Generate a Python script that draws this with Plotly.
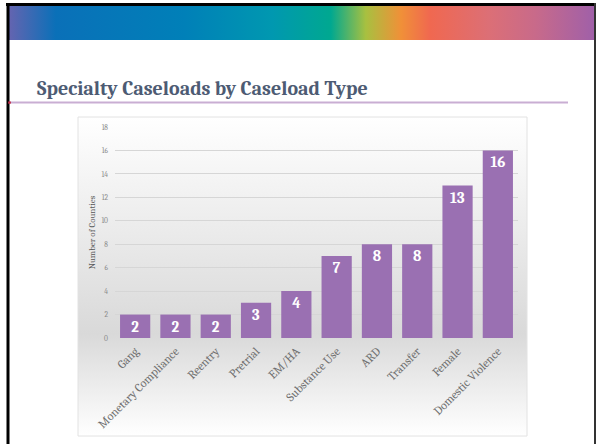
import base64
import plotly.graph_objects as go

# ── data ─────────────────────────────────────────────────────────────
categories = ["Gang", "Monetary Compliance", "Reentry", "Pretrial", "EM/HA",
              "Substance Use", "ARD", "Transfer", "Female", "Domestic Violence"]
counties = [2, 2, 2, 3, 4, 7, 8, 8, 13, 16]
y_ticks = [0, 2, 4, 6, 8, 10, 12, 14, 16, 18]

W, H = 596, 444
SERIF = "Cambria, 'Liberation Serif', serif"


def px(x):
    return x / W


def py(y):
    return 1 - y / H


def svg_uri(stops, vertical=False):
    """Tiny SVG with a linear gradient, as a data URI for layout.images."""
    x2, y2 = ("0", "1") if vertical else ("1", "0")
    st = "".join(f'<stop offset="{o}" stop-color="{c}"/>' for o, c in stops)
    svg = (f'<svg xmlns="http://www.w3.org/2000/svg" width="100" height="100" '
           f'preserveAspectRatio="none"><defs><linearGradient id="g" x1="0" y1="0" '
           f'x2="{x2}" y2="{y2}">{st}</linearGradient></defs>'
           f'<rect width="100" height="100" fill="url(#g)"/></svg>')
    return "data:image/svg+xml;base64," + base64.b64encode(svg.encode()).decode()


header = svg_uri([(0, "#6464b0"), (0.08, "#0a70b8"), (0.3, "#0080b8"),
                  (0.45, "#0098b0"), (0.55, "#00a890"), (0.61, "#a8c040"),
                  (0.67, "#f09038"), (0.72, "#f06850"), (0.82, "#dc6f76"),
                  (0.9, "#c86a8a"), (1, "#a060a8")])
panel = svg_uri([(0, "#ffffff"), (0.68, "#d9d9d9"), (1, "#ffffff")], vertical=True)

fig = go.Figure()

fig.add_trace(go.Bar(
    x=categories, y=counties,
    marker=dict(color="#9a70b2", line=dict(width=0)),
    text=counties, textposition="inside", insidetextanchor="end",
    textangle=0, constraintext="none",
    textfont=dict(family=SERIF, size=15, color="white", weight="bold"),
    cliponaxis=False,
))

fig.update_layout(
    width=W, height=H,
    margin=dict(l=0, r=0, t=0, b=0, autoexpand=False),
    paper_bgcolor="white",
    plot_bgcolor="rgba(0,0,0,0)",
    showlegend=False,
    bargap=0.25,
    xaxis=dict(
        domain=[px(115), px(518)],
        automargin=False,
        tickangle=-45,
        ticklabelstandoff=3,
        tickfont=dict(family=SERIF, size=12, color="#707070"),
        showgrid=False, showline=False, ticks="",
    ),
    yaxis=dict(
        domain=[py(338), py(127)],
        automargin=False,
        range=[0, 18],
        tickvals=y_ticks,
        ticklabelstandoff=6,
        tickfont=dict(family=SERIF, size=7.5, color="#8a8a8a"),
        gridcolor="#d6d6d6", gridwidth=1,
        zeroline=False, showline=False, ticks="",
        title=dict(text="Number of Counties", standoff=4,
                   font=dict(family=SERIF, size=9, color="#595959")),
    ),
    title=dict(
        text="<b>Specialty Caseloads by Caseload Type</b>",
        font=dict(family=SERIF, size=20, color="#4d5b73"),
        x=px(37), xanchor="left", y=py(88), yanchor="middle",
    ),
    images=[
        dict(source=header, xref="paper", yref="paper", x=px(9), y=py(6),
             sizex=px(594) - px(9), sizey=py(6) - py(40), sizing="stretch",
             xanchor="left", yanchor="top", layer="below"),
        dict(source=panel, xref="paper", yref="paper", x=px(78), y=py(117),
             sizex=px(527) - px(78), sizey=py(117) - py(436), sizing="stretch",
             xanchor="left", yanchor="top", layer="below"),
    ],
    shapes=[
        # chart box outline
        dict(type="rect", xref="paper", yref="paper", x0=px(78), x1=px(527),
             y0=py(436), y1=py(117), line=dict(color="#e2e2e2", width=1),
             layer="below"),
        # slide frame
        dict(type="line", xref="paper", yref="paper", x0=px(8), x1=px(8),
             y0=0, y1=py(3), line=dict(color="black", width=3)),
        dict(type="line", xref="paper", yref="paper", x0=px(6), x1=1,
             y0=py(4.5), y1=py(4.5), line=dict(color="black", width=3)),
        dict(type="line", xref="paper", yref="paper", x0=px(595), x1=px(595),
             y0=0, y1=py(3), line=dict(color="#333333", width=2)),
        # title rule
        dict(type="line", xref="paper", yref="paper", x0=px(9), x1=px(568),
             y0=py(102.5), y1=py(102.5), line=dict(color="#c9aed3", width=2)),
        dict(type="circle", xref="paper", yref="paper", x0=px(8), x1=px(11),
             y0=py(104), y1=py(101), fillcolor="#c0304a", line=dict(width=0)),
    ],
)

fig.write_html("out.html",
               config=dict(displayModeBar=False),
               post_script="document.body.style.margin='0';"
                           "document.body.style.overflow='hidden';")
